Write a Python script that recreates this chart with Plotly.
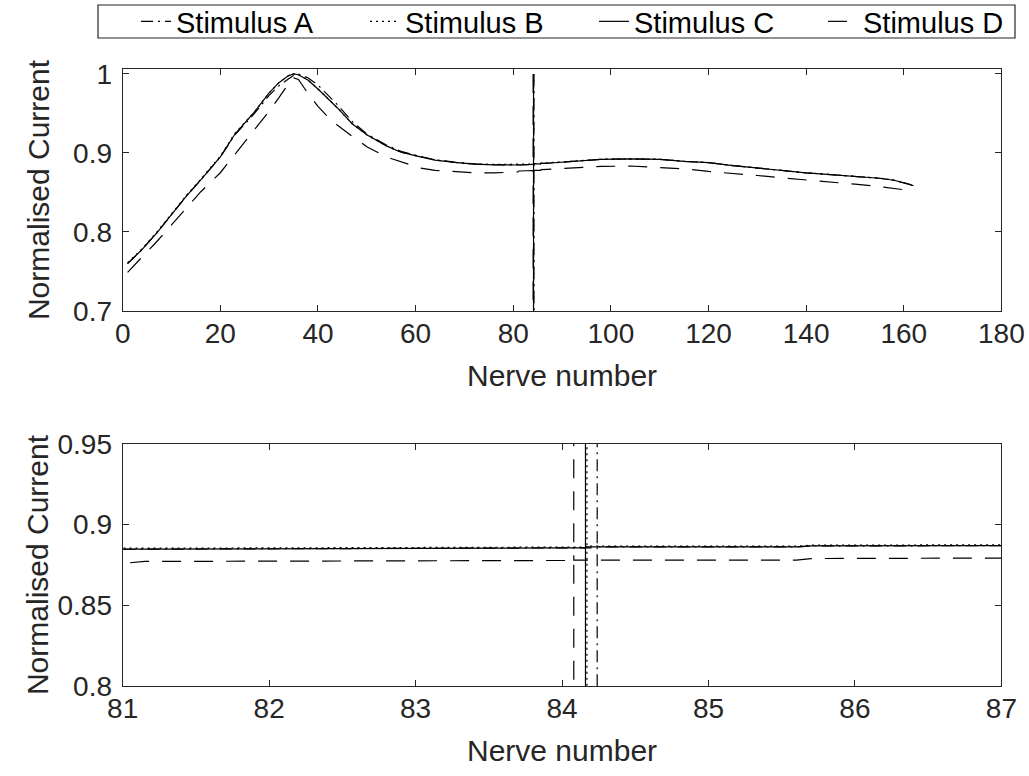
import plotly.graph_objects as go
from plotly.subplots import make_subplots

# ---------------- data ----------------
# shared nerve grid below / above the electrode spike
nerve_lo = [1, 4, 7, 10, 13, 16, 20, 23, 27, 30, 32, 34, 35, 36, 38, 40, 42, 44, 47, 50,
            54, 57, 61, 64, 68, 72, 76, 81, 81.15, 84]
nerve_hi = [85.6, 85.7, 87, 90, 94, 98, 104, 110, 115, 120, 125, 130, 135, 140, 145,
            150, 155, 158, 160, 161, 162]

stim_a_lo = [0.760, 0.778, 0.799, 0.822, 0.845, 0.866, 0.895, 0.923, 0.950, 0.973, 0.985,
             0.994, 0.998, 1.000, 0.995, 0.986, 0.974, 0.961, 0.940, 0.924, 0.910, 0.902,
             0.8955, 0.8915, 0.8885, 0.8862, 0.8852, 0.8847, 0.8848, 0.8856]
stim_a_hi = [0.8862, 0.8868, 0.8870, 0.8885, 0.8905, 0.8920, 0.8925, 0.8920, 0.8895,
             0.8878, 0.8840, 0.8810, 0.8776, 0.8748, 0.8726, 0.8705, 0.8680, 0.8655,
             0.8628, 0.8605, 0.8585]

stim_b_lo = [0.761, 0.779, 0.800, 0.823, 0.846, 0.867, 0.896, 0.925, 0.952, 0.976, 0.989,
             0.998, 1.000, 0.999, 0.992, 0.981, 0.969, 0.957, 0.937, 0.923, 0.909, 0.901,
             0.895, 0.891, 0.888, 0.886, 0.8855, 0.8853, 0.8854, 0.8861]
stim_b_hi = [0.8867, 0.8873, 0.8875, 0.8887, 0.8906, 0.8921, 0.8926, 0.8921, 0.8896,
             0.8879, 0.8841, 0.8811, 0.8777, 0.8749, 0.8727, 0.8706, 0.8681, 0.8656,
             0.8629, 0.8606, 0.8586]

stim_c_lo = [0.760, 0.778, 0.799, 0.822, 0.845, 0.866, 0.895, 0.924, 0.952, 0.976, 0.989,
             0.998, 1.000, 0.999, 0.992, 0.981, 0.969, 0.957, 0.937, 0.923, 0.909, 0.901,
             0.895, 0.891, 0.888, 0.886, 0.885, 0.8847, 0.8848, 0.8856]
stim_c_hi = [0.8862, 0.8868, 0.8870, 0.8885, 0.8905, 0.8920, 0.8925, 0.8920, 0.8895,
             0.8878, 0.8840, 0.8810, 0.8776, 0.8748, 0.8726, 0.8705, 0.8680, 0.8655,
             0.8628, 0.8605, 0.8585]

stim_d_lo = [0.749, 0.768, 0.788, 0.809, 0.830, 0.851, 0.875, 0.898, 0.929, 0.953, 0.970,
             0.988, 0.995, 0.993, 0.975, 0.959, 0.946, 0.935, 0.921, 0.908, 0.895, 0.889,
             0.881, 0.878, 0.8766, 0.8750, 0.8748, 0.8760, 0.8772, 0.8778]
stim_d_hi = [0.8780, 0.8790, 0.8793, 0.8805, 0.8818, 0.8830, 0.8835, 0.8820, 0.8800,
             0.8766, 0.8745, 0.8715, 0.8685, 0.8660, 0.8633, 0.8605, 0.8575, 0.8556,
             0.8535, 0.8520, 0.8505]

# electrode spike: position of each stimulus' spike, and the values it runs through
# (down below the axis, then from the top back to the curve)
spike_x = {"A": 84.24, "B": 84.17, "C": 84.16, "D": 84.08}
spike_vals = [0.6, None, 1.0]

names = ["Stimulus A", "Stimulus B", "Stimulus C", "Stimulus D"]
dashes = ["12px,5px,2px,5px", "2px,4px", "solid", "19px,13px"]

top_xticks = [0, 20, 40, 60, 80, 100, 120, 140, 160, 180]
top_yticks = [0.7, 0.8, 0.9, 1.0]
top_yticktext = ["0.7", "0.8", "0.9", "1"]
bot_xticks = [81, 82, 83, 84, 85, 86, 87]
bot_yticks = [0.8, 0.85, 0.9, 0.95]
bot_yticktext = ["0.8", "0.85", "0.9", "0.95"]

# ---------------- figure ----------------
series = {
    "A": (stim_a_lo, stim_a_hi),
    "B": (stim_b_lo, stim_b_hi),
    "C": (stim_c_lo, stim_c_hi),
    "D": (stim_d_lo, stim_d_hi),
}

W, H = 1029, 776
fig = make_subplots(rows=2, cols=1)

for i, key in enumerate(["A", "B", "C", "D"]):
    lo, hi = series[key]
    sx = spike_x[key]
    xs = nerve_lo + [sx] * (len(spike_vals) + 2) + nerve_hi
    ys = lo + [lo[-1]] + spike_vals + [hi[0]] + hi
    for row in (1, 2):
        fig.add_trace(go.Scatter(
            x=xs, y=ys, mode="lines", name=names[i], connectgaps=False,
            line=dict(color="black", width=1.2, dash=dashes[i]),
            showlegend=(row == 1), legendgroup=key,
        ), row=row, col=1)

axcol = "#262626"
font = "Liberation Sans, Arial, sans-serif"
common = dict(showline=True, linecolor=axcol, linewidth=1.2, mirror="ticks",
              ticks="inside", ticklen=6, tickcolor=axcol, tickwidth=1,
              showgrid=False, zeroline=False, automargin=False,
              tickfont=dict(family=font, size=28, color=axcol),
              title_font=dict(family=font, size=30, color=axcol))

xd = [122.7 / W, 1001.4 / W]
fig.update_xaxes(**common, ticklabelstandoff=-3)
fig.update_yaxes(**common, ticklabelstandoff=4)
fig.update_xaxes(row=1, col=1, domain=xd, range=[0, 180], tickvals=top_xticks,
                 title_text="Nerve number", title_standoff=17)
fig.update_yaxes(row=1, col=1, domain=[(H - 311) / H, (H - 69) / H], range=[0.7, 1.0063],
                 tickvals=top_yticks, ticktext=top_yticktext,
                 title_text="Normalised Current", title_standoff=14)
fig.update_xaxes(row=2, col=1, domain=xd, range=[81, 87], tickvals=bot_xticks,
                 title_text="Nerve number", title_standoff=17)
fig.update_yaxes(row=2, col=1, domain=[(H - 686) / H, (H - 444) / H], range=[0.8, 0.95],
                 tickvals=bot_yticks, ticktext=bot_yticktext,
                 title_text="Normalised Current", title_standoff=0)

# legend frame (decoration only)
fig.add_shape(type="rect", xref="paper", yref="paper",
              x0=98 / W, x1=1015 / W, y0=1 - 38 / H, y1=1 - 5 / H,
              line=dict(color=axcol, width=1.2), fillcolor="white", layer="below")

fig.update_layout(
    width=W, height=H,
    margin=dict(l=0, r=0, t=0, b=0, autoexpand=False),
    paper_bgcolor="white", plot_bgcolor="white",
    font=dict(family=font, color=axcol),
    legend=dict(orientation="h", x=136 / W, y=1 - 21.5 / H, xanchor="left", yanchor="middle",
                borderwidth=0, bgcolor="rgba(0,0,0,0)",
                font=dict(family=font, size=29, color="black"),
                entrywidth=184, entrywidthmode="pixels", tracegroupgap=0,
                itemclick=False),
)

fig.write_html("out.html")
